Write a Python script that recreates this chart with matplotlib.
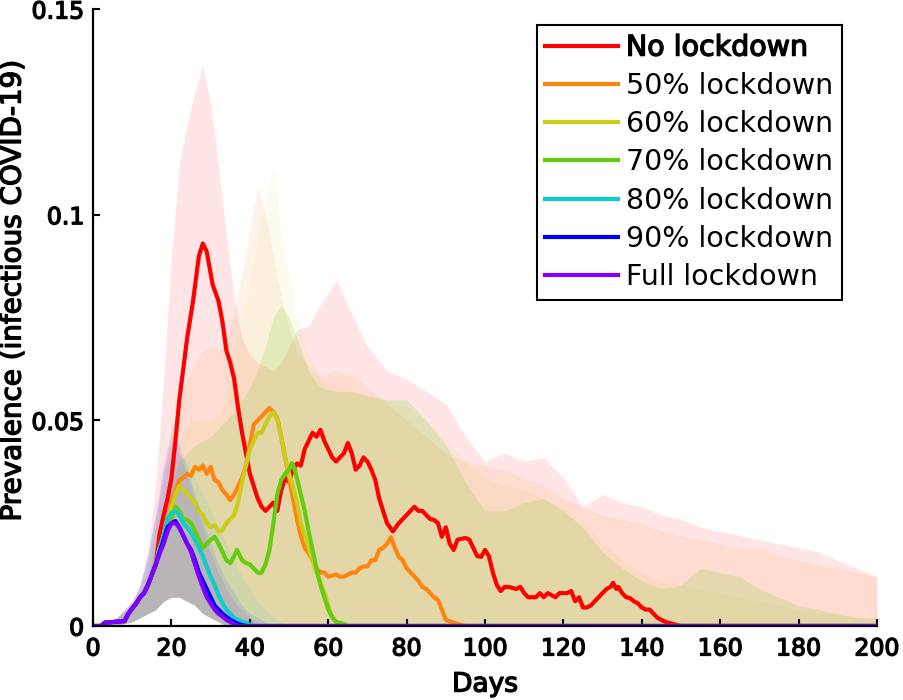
import matplotlib
matplotlib.use("Agg")
import matplotlib.pyplot as plt
import matplotlib.patheffects as pe

# common start of every run (days 0-16)
early_days = [0, 2, 3, 8, 9, 10, 11, 12, 13, 14, 15, 16]
early_vals = [0, 0, 0.0008, 0.0012, 0.003, 0.0043, 0.0055, 0.007, 0.008, 0.010, 0.0125, 0.015]

red_days = [17, 18, 19, 20, 21, 22, 24, 25.5, 27, 28, 29, 30.5, 32, 33, 34, 35, 36, 37, 38, 39, 40,
            41, 42, 43, 44, 45, 46, 47, 48, 49, 50, 51, 52, 53, 54, 55, 56, 57, 58, 59, 60, 61, 62,
            63, 64, 65, 66, 67, 68, 69, 70, 71, 72, 73, 74, 75, 76.5, 78, 80, 82, 83, 84, 85, 86, 87,
            88, 89, 90, 91, 92, 93, 95, 96, 97, 98, 99, 100, 101, 102, 103, 104, 105, 106, 108, 109,
            110, 111, 113, 114, 115, 116, 117, 118, 119, 121, 122, 123, 124, 125, 126, 127, 128, 129,
            130, 131, 132, 132.7, 133.5, 134, 135, 136, 137, 138, 139, 140, 141, 142, 143, 144, 145,
            146, 148, 150, 200]
red_vals = [0.0226, 0.027, 0.031, 0.036, 0.045, 0.055, 0.070, 0.079, 0.090, 0.093, 0.091, 0.083, 0.079,
            0.074, 0.067, 0.064, 0.060, 0.053, 0.047, 0.042, 0.037, 0.034, 0.031, 0.029, 0.028, 0.029,
            0.030, 0.028, 0.033, 0.036, 0.035, 0.038, 0.0395, 0.039, 0.043, 0.045, 0.047, 0.046, 0.0477,
            0.045, 0.043, 0.041, 0.040, 0.041, 0.042, 0.0445, 0.042, 0.038, 0.039, 0.041, 0.040, 0.038,
            0.0355, 0.031, 0.028, 0.025, 0.023, 0.025, 0.027, 0.029, 0.028, 0.028, 0.027, 0.026, 0.0258,
            0.025, 0.0217, 0.024, 0.020, 0.0185, 0.021, 0.0214, 0.021, 0.019, 0.017, 0.0168, 0.0185,
            0.017, 0.013, 0.010, 0.0085, 0.0095, 0.0095, 0.009, 0.0095, 0.008, 0.007, 0.007, 0.008,
            0.007, 0.008, 0.0075, 0.007, 0.008, 0.008, 0.0085, 0.006, 0.007, 0.0045, 0.0045, 0.005,
            0.006, 0.007, 0.008, 0.009, 0.0095, 0.0105, 0.009, 0.0095, 0.008, 0.007, 0.0068, 0.006,
            0.0055, 0.0045, 0.004, 0.004, 0.003, 0.002, 0.0015, 0.001, 0.0005, 0, 0]

orange_days = [17, 18, 20, 21, 22, 23, 24, 25, 26, 27, 28, 29, 30, 31, 32, 33, 34, 35, 36, 37, 38, 39,
               40, 41, 42, 43, 44, 45, 46, 47, 48, 49, 50, 51, 52, 53, 54, 55, 56, 57, 58, 59, 60, 62,
               63, 64, 66, 67, 68, 69, 70, 71, 72, 73, 74, 75, 76, 77, 78, 79, 80, 81, 82, 83, 84, 85,
               86, 87, 88, 89, 90, 92, 95, 200]
orange_vals = [0.019, 0.022, 0.030, 0.033, 0.0355, 0.036, 0.037, 0.0365, 0.0387, 0.038, 0.039, 0.037,
               0.0387, 0.0355, 0.035, 0.033, 0.032, 0.0306, 0.032, 0.034, 0.036, 0.039, 0.044, 0.049,
               0.050, 0.051, 0.052, 0.053, 0.052, 0.0505, 0.046, 0.041, 0.036, 0.031, 0.026, 0.022,
               0.019, 0.0177, 0.016, 0.014, 0.013, 0.013, 0.012, 0.0125, 0.012, 0.012, 0.013, 0.013,
               0.014, 0.0145, 0.0145, 0.016, 0.016, 0.0185, 0.019, 0.020, 0.0216, 0.019, 0.0168, 0.016,
               0.014, 0.013, 0.012, 0.011, 0.0095, 0.009, 0.008, 0.007, 0.0063, 0.004, 0.0015, 0.0008,
               0, 0]

yellow_days = [17, 18, 20, 21, 22, 23, 24, 25, 26, 27, 28, 29, 30, 31, 32, 33, 34, 35, 36, 37, 38, 39,
               40, 41, 42, 43, 44, 45, 46, 47, 48, 49, 50, 51, 52, 53, 54, 55, 56, 57, 58, 59, 60, 61,
               62, 64, 200]
yellow_vals = [0.019, 0.022, 0.029, 0.032, 0.034, 0.033, 0.032, 0.031, 0.030, 0.028, 0.027, 0.025,
               0.024, 0.0245, 0.023, 0.0233, 0.025, 0.026, 0.027, 0.030, 0.035, 0.039, 0.043, 0.045,
               0.047, 0.047, 0.049, 0.051, 0.052, 0.050, 0.046, 0.041, 0.037, 0.034, 0.030, 0.025,
               0.022, 0.019, 0.016, 0.013, 0.0105, 0.008, 0.005, 0.002, 0.001, 0, 0]

green_days = [17, 18, 20, 21, 22, 23, 24, 25, 26, 27, 28, 29, 30, 31, 32, 33, 34, 35, 36, 36.7, 37.5,
              38, 39, 40, 41, 42, 42.6, 43, 44, 45, 46, 47, 48, 49, 50, 50.7, 51.5, 52, 53, 54, 55, 56,
              57, 58, 59, 60, 61, 62, 64, 65, 200]
green_vals = [0.0185, 0.021, 0.026, 0.029, 0.028, 0.026, 0.0258, 0.025, 0.023, 0.021, 0.019, 0.020,
              0.021, 0.0217, 0.020, 0.018, 0.016, 0.0153, 0.017, 0.0185, 0.017, 0.016, 0.0153, 0.015,
              0.014, 0.013, 0.0128, 0.013, 0.015, 0.0185, 0.025, 0.032, 0.0355, 0.037, 0.038, 0.0396,
              0.038, 0.036, 0.032, 0.028, 0.023, 0.0185, 0.014, 0.010, 0.007, 0.004, 0.0022, 0.001,
              0.0005, 0, 0]

cyan_days = [17, 18, 19, 20, 21, 22, 23, 24, 25, 26, 27, 28, 29, 30, 31, 32, 33, 34, 35, 36, 37, 39, 41, 200]
cyan_vals = [0.019, 0.022, 0.026, 0.0275, 0.028, 0.027, 0.025, 0.024, 0.0226, 0.021, 0.019, 0.017,
             0.0144, 0.012, 0.010, 0.0075, 0.0055, 0.004, 0.003, 0.002, 0.0015, 0.0007, 0, 0]

blue_days = [17, 18, 19, 20, 21, 22, 23, 24, 25, 26, 27, 28, 29, 30, 31, 32, 33, 35, 37, 39, 200]
blue_vals = [0.018, 0.021, 0.024, 0.025, 0.0255, 0.024, 0.022, 0.020, 0.0185, 0.016, 0.013, 0.011,
             0.009, 0.007, 0.005, 0.004, 0.003, 0.0015, 0.0005, 0, 0]

purple_days = [17, 18, 19, 20, 21, 22, 23, 24, 25, 26, 27, 28, 29, 30, 31, 32, 33, 34, 35, 37, 200]
purple_vals = [0.0177, 0.020, 0.023, 0.025, 0.025, 0.024, 0.022, 0.020, 0.018, 0.015, 0.012, 0.0095,
               0.007, 0.0055, 0.004, 0.003, 0.0023, 0.0015, 0.001, 0, 0]

# uncertainty bands
band_days = [0, 5, 10, 12, 14, 16, 18, 20, 22, 24, 26, 28, 30, 32, 34, 36, 38, 40, 42, 44, 46, 48, 50,
             52, 55, 58, 62, 66, 70, 75, 80, 85, 90, 95, 100, 105, 110, 115, 120, 125, 130, 135, 140,
             145, 150, 155, 160, 165, 170, 175, 180, 185, 190, 195, 200]
band_lo = [0, 0, 0.001, 0.002, 0.003, 0.004, 0.006, 0.007, 0.007, 0.006, 0.005, 0.003, 0.002, 0.001] + [0] * 41
red_hi = [0, 0.001, 0.006, 0.010, 0.018, 0.035, 0.060, 0.090, 0.112, 0.122, 0.130, 0.136, 0.127, 0.112,
          0.095, 0.080, 0.070, 0.066, 0.064, 0.063, 0.062, 0.064, 0.068, 0.072, 0.073, 0.078, 0.084,
          0.076, 0.068, 0.062, 0.060, 0.057, 0.054, 0.046, 0.040, 0.042, 0.040, 0.041, 0.036, 0.029,
          0.032, 0.030, 0.029, 0.027, 0.026, 0.024, 0.023, 0.022, 0.021, 0.020, 0.019, 0.018, 0.016,
          0.014, 0.012]
orange_hi = [0, 0.001, 0.006, 0.009, 0.015, 0.025, 0.038, 0.048, 0.055, 0.060, 0.064, 0.067, 0.068,
             0.067, 0.070, 0.076, 0.086, 0.096, 0.107, 0.100, 0.090, 0.080, 0.072, 0.067, 0.063, 0.061,
             0.062, 0.061, 0.058, 0.054, 0.050, 0.046, 0.042, 0.040, 0.039, 0.038, 0.036, 0.034, 0.031,
             0.029, 0.027, 0.026, 0.025, 0.023, 0.022, 0.021, 0.020, 0.019, 0.019, 0.017, 0.016, 0.015,
             0.014, 0.013, 0.012]
yellow_hi = [0, 0.001, 0.005, 0.009, 0.014, 0.022, 0.032, 0.040, 0.045, 0.048, 0.050, 0.050, 0.050,
             0.051, 0.055, 0.064, 0.074, 0.084, 0.094, 0.104, 0.111, 0.096, 0.085, 0.075, 0.066, 0.060,
             0.058, 0.057, 0.056, 0.055, 0.053, 0.050, 0.045, 0.040, 0.036, 0.034, 0.033, 0.031, 0.029,
             0.025, 0.020, 0.016, 0.013, 0.011, 0.010, 0.009, 0.008, 0.007, 0.006, 0.005, 0.004, 0.003,
             0.003, 0.002, 0.002]
green_hi = [0, 0.001, 0.005, 0.008, 0.012, 0.020, 0.028, 0.035, 0.040, 0.042, 0.044, 0.045, 0.046,
            0.048, 0.050, 0.052, 0.055, 0.058, 0.062, 0.068, 0.075, 0.078, 0.075, 0.070, 0.062, 0.058,
            0.057, 0.057, 0.056, 0.055, 0.055, 0.050, 0.044, 0.035, 0.028, 0.028, 0.030, 0.031, 0.028,
            0.024, 0.018, 0.014, 0.011, 0.009, 0.010, 0.014, 0.013, 0.012, 0.009, 0.007, 0.005, 0.004,
            0.003, 0.002, 0.002]
cyan_hi = [0, 0.001, 0.005, 0.010, 0.017, 0.026, 0.036, 0.043, 0.042, 0.040, 0.036, 0.032, 0.028,
           0.024, 0.020, 0.016, 0.012, 0.009, 0.006, 0.004, 0.002, 0.001] + [0] * 33
blue_hi = [0, 0.001, 0.006, 0.010, 0.018, 0.028, 0.040, 0.047, 0.044, 0.038, 0.032, 0.026, 0.020,
           0.015, 0.011, 0.008, 0.005, 0.003, 0.002, 0.001] + [0] * 35
purple_hi = [0, 0.001, 0.006, 0.010, 0.017, 0.027, 0.038, 0.045, 0.042, 0.037, 0.030, 0.024, 0.018,
             0.013, 0.009, 0.006, 0.004, 0.002, 0.001] + [0] * 36

labels = ["No lockdown", "50% lockdown", "60% lockdown", "70% lockdown",
          "80% lockdown", "90% lockdown", "Full lockdown"]
colors = ["#ff0000", "#ff8410", "#cccc1a", "#66cc10", "#10cccc", "#0000ff", "#8000ff"]
band_alpha = [0.1, 0.09, 0.07, 0.16, 0.09, 0.08, 0.08]

series = [(red_days, red_vals, red_hi), (orange_days, orange_vals, orange_hi),
          (yellow_days, yellow_vals, yellow_hi), (green_days, green_vals, green_hi),
          (cyan_days, cyan_vals, cyan_hi), (blue_days, blue_vals, blue_hi),
          (purple_days, purple_vals, purple_hi)]

heavy = [pe.withStroke(linewidth=1.0, foreground="black")]

fig = plt.figure(figsize=(9.04, 7.0), dpi=100)
ax = fig.add_axes([0.103, 0.1057, 0.867, 0.8814])

for (d, v, hi), c, a in zip(series, colors, band_alpha):
    ax.fill_between(band_days, band_lo, hi, color=c, alpha=a, lw=0)

for (d, v, hi), c, lab in zip(series, colors, labels):
    ax.plot(early_days + d, early_vals + v, color=c, lw=3, label=lab)

ax.set_xlim(0, 200)
ax.set_ylim(0, 0.15)
ax.set_xticks([0, 20, 40, 60, 80, 100, 120, 140, 160, 180, 200])
ax.set_yticks([0, 0.05, 0.1, 0.15])
ax.set_yticklabels(["0", "0.05", "0.1", "0.15"])
ax.tick_params(direction="in", length=5, width=1.5, labelsize=17)
ax.tick_params(axis="x", pad=7.5)
ax.tick_params(axis="y", pad=6.5)
for t in ax.get_xticklabels() + ax.get_yticklabels():
    t.set_path_effects(heavy)
for s in ["top", "right"]:
    ax.spines[s].set_visible(False)
for s in ["left", "bottom"]:
    ax.spines[s].set_linewidth(1.6)

ax.set_xlabel("Days", fontsize=19, labelpad=8, path_effects=heavy)
ax.set_ylabel("Prevalence (infectious COVID-19)", fontsize=20, path_effects=heavy)
ax.yaxis.set_label_coords(-0.085, 0.543)

leg = ax.legend(loc="upper right", bbox_to_anchor=(0.955, 0.974), fontsize=20.5, frameon=True,
                fancybox=False, edgecolor="black", framealpha=1, handlelength=2.56,
                handletextpad=0.28, labelspacing=0.36, borderpad=0.3, borderaxespad=0)
leg.get_frame().set_linewidth(1.5)
leg.get_texts()[0].set_path_effects(heavy)

fig.savefig("out.png", dpi=100)
